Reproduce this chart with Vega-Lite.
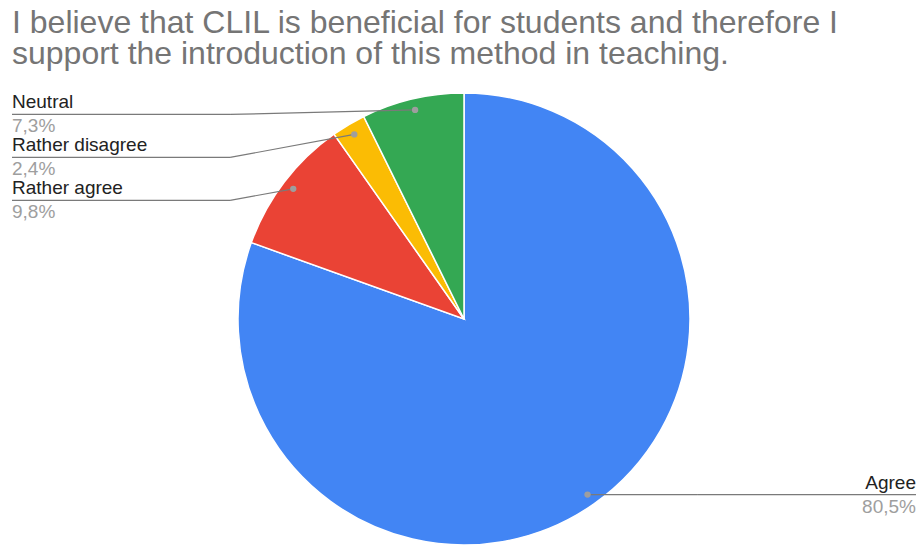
{
  "$schema": "https://vega.github.io/schema/vega-lite/v6.json",
  "width": 918,
  "height": 452,
  "autosize": {"type": "none"},
  "padding": {"top": 93, "left": 5, "right": 0, "bottom": 0},
  "background": "white",
  "title": {
    "text": ["I believe that CLIL is beneficial for students and therefore I", "support the introduction of this method in teaching."],
    "font": "Liberation Sans",
    "fontSize": 32,
    "fontWeight": "normal",
    "color": "#757575",
    "anchor": "start",
    "frame": "group",
    "baseline": "alphabetic",
    "lineHeight": 31,
    "dx": 7,
    "offset": -6
  },
  "data": {
    "values": [
      {"idx": 1, "answer": "Agree", "count": 33},
      {"idx": 2, "answer": "Rather agree", "count": 4},
      {"idx": 3, "answer": "Rather disagree", "count": 1},
      {"idx": 4, "answer": "Neutral", "count": 3}
    ]
  },
  "transform": [
    {"joinaggregate": [{"op": "sum", "field": "count", "as": "total"}]},
    {"stack": "count", "groupby": [], "sort": [{"field": "idx", "order": "ascending"}], "as": ["s0", "s1"]},
    {"calculate": "((datum.s0 + datum.s1) / 2) / datum.total * 2 * PI", "as": "mid"},
    {"calculate": "0.95 * sin(datum.mid)", "as": "px"},
    {"calculate": "0.95 * cos(datum.mid)", "as": "py"},
    {"calculate": "datum.px < 0 ? 'left' : 'right'", "as": "side"},
    {"window": [{"op": "row_number", "as": "rank"}], "groupby": ["side"], "sort": [{"field": "py", "order": "descending"}]},
    {"joinaggregate": [{"op": "max", "field": "py", "as": "topY"}], "groupby": ["side"]},
    {"calculate": "datum.side == 'left' ? min(datum.py - 0.02, datum.topY - 0.02 - (datum.rank - 1) * 0.19) : datum.py", "as": "ly"},
    {"calculate": "datum.side == 'left' ? -1.035 : 1.035", "as": "ex"},
    {"calculate": "datum.side == 'left' ? -2.0 : 2.0", "as": "endx"},
    {"calculate": "replace(format(datum.count / datum.total * 100, '.1f'), '.', ',') + '%'", "as": "pct"}
  ],
  "layer": [
    {
      "mark": {"type": "arc", "outerRadius": 226, "stroke": "white", "strokeWidth": 1.5},
      "encoding": {
        "theta": {"field": "count", "type": "quantitative", "stack": true},
        "order": {"field": "idx", "type": "quantitative", "sort": "ascending"},
        "color": {
          "field": "answer",
          "type": "nominal",
          "scale": {"domain": ["Agree", "Rather agree", "Rather disagree", "Neutral"], "range": ["#4285F4", "#EA4335", "#FBBC04", "#34A853"]},
          "legend": null
        }
      }
    },
    {
      "mark": {"type": "rule", "color": "#7a7a7a", "strokeWidth": 1.2},
      "encoding": {
        "x": {"field": "px", "type": "quantitative", "scale": {"domain": [-2.031, 2.031], "nice": false, "zero": false}, "axis": null},
        "y": {"field": "py", "type": "quantitative", "scale": {"domain": [-1, 1], "nice": false, "zero": false}, "axis": null},
        "x2": {"field": "ex"},
        "y2": {"field": "ly"}
      }
    },
    {
      "mark": {"type": "rule", "color": "#7a7a7a", "strokeWidth": 1.2},
      "encoding": {
        "x": {"field": "ex", "type": "quantitative"},
        "y": {"field": "ly", "type": "quantitative"},
        "x2": {"field": "endx"}
      }
    },
    {
      "mark": {"type": "point", "filled": true, "color": "#9e9e9e", "opacity": 1, "size": 40},
      "encoding": {
        "x": {"field": "px", "type": "quantitative"},
        "y": {"field": "py", "type": "quantitative"}
      }
    },
    {
      "transform": [{"filter": "datum.side == 'left'"}],
      "mark": {"type": "text", "align": "left", "baseline": "alphabetic", "dy": -6, "font": "Liberation Sans", "fontSize": 19, "color": "#222222"},
      "encoding": {
        "x": {"field": "endx", "type": "quantitative"},
        "y": {"field": "ly", "type": "quantitative"},
        "text": {"field": "answer"}
      }
    },
    {
      "transform": [{"filter": "datum.side == 'left'"}],
      "mark": {"type": "text", "align": "left", "baseline": "alphabetic", "dy": 18, "font": "Liberation Sans", "fontSize": 19, "color": "#9e9e9e"},
      "encoding": {
        "x": {"field": "endx", "type": "quantitative"},
        "y": {"field": "ly", "type": "quantitative"},
        "text": {"field": "pct"}
      }
    },
    {
      "transform": [{"filter": "datum.side == 'right'"}],
      "mark": {"type": "text", "align": "right", "baseline": "alphabetic", "dy": -6, "font": "Liberation Sans", "fontSize": 19, "color": "#222222"},
      "encoding": {
        "x": {"field": "endx", "type": "quantitative"},
        "y": {"field": "ly", "type": "quantitative"},
        "text": {"field": "answer"}
      }
    },
    {
      "transform": [{"filter": "datum.side == 'right'"}],
      "mark": {"type": "text", "align": "right", "baseline": "alphabetic", "dy": 18, "font": "Liberation Sans", "fontSize": 19, "color": "#9e9e9e"},
      "encoding": {
        "x": {"field": "endx", "type": "quantitative"},
        "y": {"field": "ly", "type": "quantitative"},
        "text": {"field": "pct"}
      }
    }
  ],
  "config": {"view": {"stroke": null}}
}
